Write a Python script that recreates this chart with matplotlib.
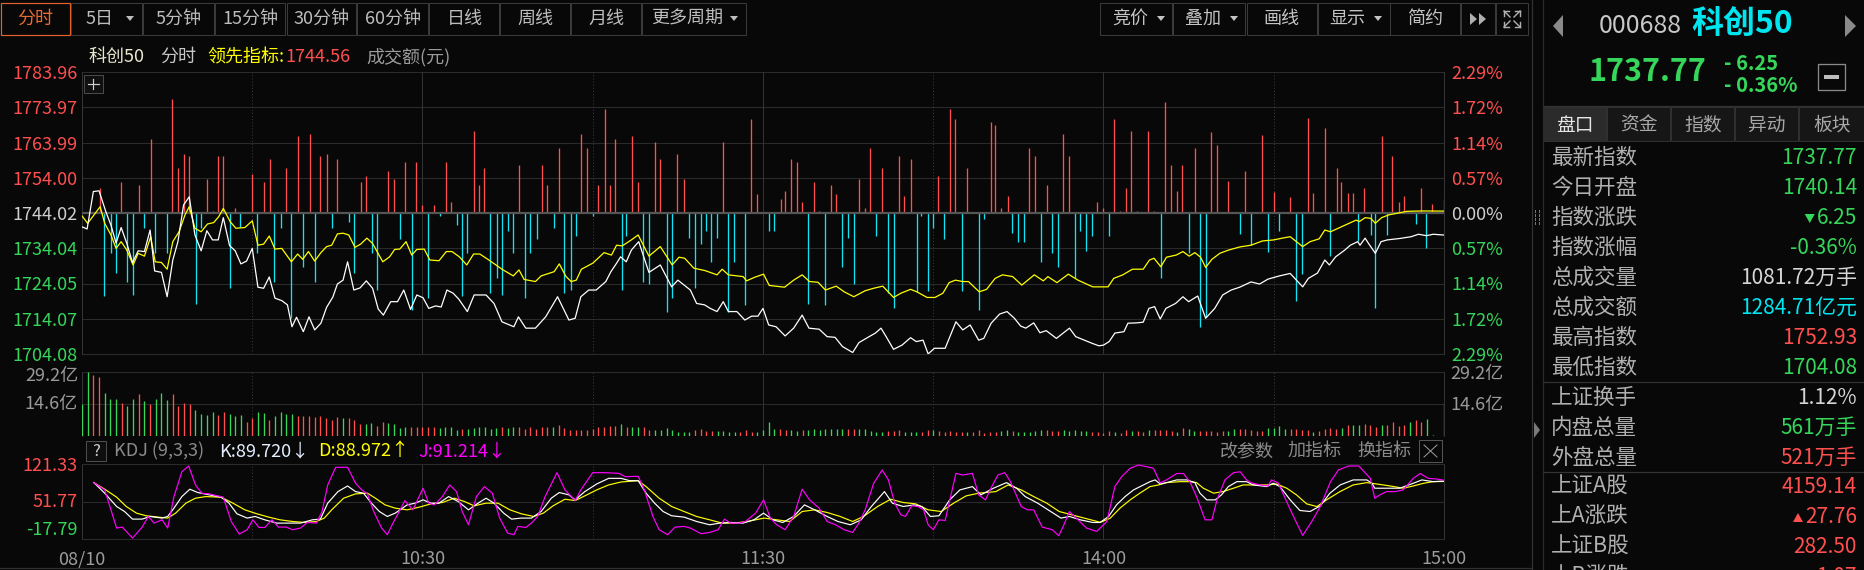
import matplotlib
matplotlib.use("Agg")
import matplotlib.pyplot as plt
from matplotlib.lines import Line2D
from matplotlib.patches import Rectangle, Polygon

plt.rcParams['font.family'] = ['Noto Sans CJK SC', 'DejaVu Sans']

# ---------------------------------------------------------------- data
prev_close = 1744.02
price_ticks = [1704.08, 1714.07, 1724.05, 1734.04, 1744.02, 1754.00, 1763.99, 1773.97, 1783.96]
pct_labels = ['2.29%', '1.72%', '1.14%', '0.57%', '0.00%', '0.57%', '1.14%', '1.72%', '2.29%']
time_ticks = [0, 60, 120, 180, 240]
time_labels = ['08/10', '10:30', '11:30', '14:00', '15:00']

# white line: index level (minutes after 9:30)
price_t = [0, 0.9, 2, 3, 4.2, 5.1, 6, 6.9, 7.9, 8.9, 9.9, 11, 12, 12.8, 14, 15, 16, 16.9, 17.9, 18.9,
           19.9, 21, 22, 23, 24, 24.9, 26, 27, 28, 29, 30, 31, 32, 33, 34, 35.2, 36.2, 37, 37.8, 39,
           40, 41, 42.1, 43.1, 44.2, 45, 46, 46.8, 47.9, 49, 50.1, 51.2, 52.2, 53.1, 54.4, 55.6, 56.7, 57.9, 59, 60.1,
           61.1, 62.3, 63.3, 64.3, 65.4, 66.4, 67.9, 69.1, 71.2, 72.6, 74, 76.1, 76.9, 78.2, 79.9, 81.7, 83.8, 85.8, 86.9, 87.9,
           89.3, 90.6, 92.3, 93.2, 94.2, 94.9, 95.9, 96.8, 98.1, 99.9, 101.9, 103.9, 105, 107.2, 108.3, 109.7, 110.7, 111.9, 113, 113.9,
           115.4, 116.8, 118, 119.1, 120, 121, 122.3, 123.9, 125.4, 126.9, 128.1, 129.9, 131.3, 132.7, 134, 135.8, 136.9, 138.7, 139.8, 140.8,
           141.7, 143, 144.5, 146, 147, 148.2, 149.1, 150.2, 152.1, 154, 155.2, 156.5, 158, 158.9, 160.2, 161.7, 163, 164.3, 165.4, 166.3,
           167.7, 168.8, 169.9, 171.7, 174, 175.1, 176.6, 178, 179.2, 180, 181, 182, 183.6, 184.3, 185.9, 187, 188, 189, 190, 191,
           192.7, 194, 195, 196.6, 198, 199.6, 201, 202.5, 204, 206, 207.5, 209, 211, 212.9, 215.1, 216.1, 217.7, 219, 219.8, 220.9,
           222.5, 223.5, 224.8, 225.2, 226.1, 226.7, 227.9, 228.9, 230, 232.2, 234.2, 235.5, 236.9, 238.1, 240]
price_v = [1740.1, 1739.5, 1750.1, 1750.3, 1744.4, 1740.6, 1735.5, 1739.9, 1735.4, 1730.0, 1733.3, 1733.1, 1739.2, 1727.6, 1727.2, 1720.3, 1730.7, 1735.9, 1746.3, 1748.6,
           1737.8, 1733.3, 1739.0, 1736.4, 1736.4, 1742.7, 1734.8, 1733.3, 1729.6, 1730.4, 1734.0, 1723.0, 1722.7, 1725.9, 1719.9, 1719.2, 1718.0, 1711.8, 1714.5, 1710.4,
           1714.6, 1710.9, 1712.8, 1717.3, 1720.2, 1723.9, 1725.0, 1730.2, 1722.2, 1722.8, 1724.8, 1722.7, 1716.8, 1715.1, 1718.9, 1718.9, 1722.2, 1716.7, 1720.8, 1720.0,
           1717.0, 1717.7, 1717.4, 1722.2, 1721.3, 1719.6, 1716.1, 1720.8, 1720.8, 1718.4, 1713.2, 1711.8, 1714.6, 1711.4, 1711.4, 1714.6, 1720.3, 1713.7, 1714.2, 1720.3,
           1722.2, 1722.2, 1724.6, 1727.4, 1729.8, 1731.6, 1730.2, 1733.5, 1735.9, 1727.2, 1729.3, 1723.1, 1725.0, 1722.2, 1718.4, 1718.0, 1717.0, 1716.1, 1718.9, 1716.1,
           1716.1, 1713.7, 1714.8, 1714.8, 1717.0, 1712.3, 1711.8, 1709.2, 1711.4, 1715.1, 1711.4, 1711.1, 1709.0, 1708.8, 1706.2, 1704.5, 1707.3, 1709.0, 1710.0, 1711.4,
           1709.0, 1705.4, 1706.6, 1708.7, 1707.6, 1708.0, 1704.1, 1705.7, 1705.7, 1713.2, 1710.9, 1712.3, 1708.0, 1708.5, 1712.8, 1715.4, 1716.1, 1714.2, 1712.0, 1711.4,
           1712.9, 1710.1, 1710.7, 1708.5, 1711.4, 1709.0, 1708.0, 1707.1, 1706.4, 1706.6, 1707.6, 1710.0, 1710.4, 1712.8, 1712.9, 1713.1, 1717.0, 1717.5, 1714.0, 1717.0,
           1718.4, 1720.3, 1718.9, 1720.5, 1714.2, 1717.0, 1720.8, 1722.2, 1723.0, 1724.5, 1723.9, 1725.3, 1726.2, 1726.9, 1723.1, 1725.5, 1727.0, 1730.7, 1729.3, 1731.6,
           1733.5, 1734.9, 1735.9, 1734.9, 1736.9, 1735.4, 1732.6, 1735.9, 1736.4, 1736.8, 1737.3, 1738.0, 1737.6, 1738.0, 1737.77]

# yellow line: 领先指标
lead_t = [0, 1, 3.2, 4, 5.1, 6, 6.9, 7.9, 9, 9.9, 11, 12.1, 12.9, 14, 15, 16, 17.1, 18.2, 18.9, 19.9,
          21, 22.1, 23.2, 24.1, 24.9, 26.1, 27.1, 28.7, 30, 31, 32, 33, 34, 35.2, 36.9, 38, 38.9, 39.9, 41, 42.1,
          43.1, 44, 45, 46, 47, 48.1, 49.1, 50.2, 51.2, 53, 54.2, 55.1, 56, 57.1, 58.1, 59, 60.3, 61.3, 62.9, 64.2,
          65.2, 66.5, 67.8, 69, 70.1, 71.7, 74, 76, 77, 77.9, 79.9, 80.9, 83.2, 84.1, 85.3, 86.2, 87.1, 88, 90, 92,
          93.3, 94.2, 95.2, 96.8, 98, 99.9, 101.9, 104, 105.2, 106.2, 107.8, 109.8, 111.9, 112.8, 113.9, 116.5, 117.1, 118.5, 120.1, 121.1,
          123.8, 125.4, 126.9, 128.2, 129.7, 131, 132.9, 134.3, 136, 138, 139.5, 141.1, 143, 144.3, 146, 147.1, 148.9, 150.3, 151.7, 152.8,
          153.9, 155.2, 156.2, 158.1, 159.4, 160.9, 162.2, 164, 165.6, 167.8, 169.4, 170.2, 171.8, 173.8, 175.5, 178.1, 180.8, 181.8, 183.4, 185.1,
          187, 188.1, 188.9, 190.1, 191.1, 192.8, 194, 195.1, 196.1, 197.1, 198, 199.1, 200.5, 202, 204, 206, 208, 210, 211.5, 212.9,
          215.1, 216.4, 218, 219, 220, 221.9, 224.5, 225.1, 226.1, 227.1, 227.9, 229, 230.3, 233.5, 236.1, 240]
lead_v = [1743.2, 1741.1, 1745.8, 1741.1, 1737.8, 1734.0, 1735.9, 1733.5, 1729.3, 1732.6, 1731.8, 1737.3, 1730.2, 1730.0, 1728.1, 1735.9, 1738.7, 1743.7, 1745.8, 1739.7,
          1738.7, 1740.9, 1741.3, 1743.0, 1745.3, 1741.6, 1739.7, 1739.9, 1741.8, 1734.9, 1735.2, 1737.5, 1733.8, 1734.0, 1730.2, 1732.4, 1730.9, 1733.1, 1730.4, 1732.8,
          1734.5, 1734.9, 1738.1, 1738.3, 1737.8, 1734.3, 1735.2, 1736.9, 1735.4, 1730.2, 1731.6, 1733.7, 1733.8, 1735.9, 1732.1, 1733.7, 1733.8, 1730.7, 1730.5, 1733.1,
          1733.1, 1731.6, 1729.3, 1732.4, 1732.4, 1730.7, 1728.1, 1726.2, 1727.9, 1725.2, 1724.6, 1726.2, 1727.4, 1729.6, 1726.0, 1724.6, 1725.0, 1728.1, 1729.8, 1732.8,
          1732.1, 1734.9, 1734.7, 1736.4, 1737.8, 1731.8, 1734.5, 1729.3, 1731.5, 1731.2, 1728.4, 1727.7, 1726.5, 1728.1, 1726.5, 1726.0, 1724.8, 1725.8, 1726.7, 1723.5,
          1723.0, 1725.0, 1726.5, 1724.6, 1724.4, 1722.2, 1723.3, 1721.7, 1720.3, 1722.0, 1722.7, 1723.3, 1720.1, 1721.3, 1722.4, 1721.7, 1720.1, 1720.1, 1721.3, 1724.3,
          1725.0, 1724.6, 1724.6, 1721.7, 1722.4, 1725.5, 1726.5, 1726.0, 1723.6, 1726.5, 1724.8, 1726.0, 1724.3, 1726.7, 1725.0, 1723.1, 1723.1, 1725.5, 1726.5, 1728.1,
          1728.1, 1730.7, 1731.2, 1728.8, 1731.5, 1732.1, 1733.1, 1731.8, 1732.8, 1731.5, 1728.6, 1730.9, 1732.6, 1733.5, 1734.4, 1734.9, 1736.1, 1736.4, 1736.9, 1737.3,
          1734.5, 1735.9, 1736.7, 1739.2, 1738.7, 1740.1, 1742.0, 1741.6, 1742.7, 1742.5, 1741.1, 1742.7, 1743.5, 1744.5, 1744.6, 1744.56]

# red / cyan strength bars around the previous close (index points)
up_t = [1, 3.1, 6.9, 10, 12.1, 15.9, 17, 18, 18.9, 22, 23, 24, 24.9, 27, 30, 32, 33.1, 36, 38, 40.1,
        42, 43.1, 45, 49.1, 50, 54, 55, 57, 58.9, 60, 62, 64.1, 65, 69, 70, 70.9, 77, 81, 82, 84,
        88, 89, 91, 92.1, 93.1, 94, 97, 98, 101, 101.9, 104.9, 106, 113, 117.9, 119, 123.1, 123.9, 125, 126, 126.9,
        129, 129.9, 132, 132.9, 137, 138, 138.9, 141, 144, 144.9, 146, 150.9, 153, 153.8, 156, 160.1, 160.9, 162, 163.1, 166.9,
        168, 170, 172.9, 174, 178.9, 180, 181.9, 182.9, 184, 184.9, 185.9, 187.9, 188.9, 190.9, 191.9, 192.9, 193.9, 196.1, 199, 200,
        202, 205, 208, 210, 212.9, 216, 217, 219, 221.1, 221.9, 223, 224, 225.9, 229, 230.9, 232, 233, 235.9, 237.9, 240]
up_v = [0.4, 7.0, 8.7, 7.9, 21.0, 32.2, 12.7, 16.6, 16.1, 9.6, 0.7, 16.1, 16.1, 1.3, 11.0, 8.7, 15.3, 12.7, 21.8, 22.4,
        16.1, 16.6, 15.3, 8.7, 10.5, 11.9, 9.6, 14.5, 14.5, 2.3, 2.3, 14.5, 3.2, 23.2, 7.9, 12.7, 13.6, 13.6, 7.9, 18.3,
        22.4, 18.5, 7.9, 29.6, 7.9, 21.0, 21.8, 8.7, 20.2, 15.3, 16.7, 9.6, 20.2, 26.6, 5.4, 4.0, 6.2, 15.3, 14.5, 3.0,
        8.7, 0.6, 7.9, 5.4, 9.6, 1.4, 18.3, 12.8, 16.1, 4.8, 15.3, 10.5, 29.6, 26.6, 12.8, 25.9, 24.9, 1.4, 4.8, 18.3,
        16.1, 7.9, 22.4, 16.1, 3.0, 1.4, 26.6, 0.6, 7.2, 23.2, 0.6, 23.2, 0.6, 31.4, 13.6, 6.2, 13.6, 18.3, 23.0, 19.3,
        9.0, 12.0, 22.0, 6.0, 4.6, 26.8, 5.6, 24.2, 12.8, 8.9, 5.6, 5.6, 7.2, 21.8, 16.1, 3.2, 4.8, 7.2, 2.5, 3.9]
dn_t = [3.9, 5.1, 6, 8, 9, 11, 12.9, 15, 20.1, 21, 26, 27.9, 30.9, 33.9, 35, 36.9, 39, 41, 44, 47,
        48, 51.1, 52, 56, 58.1, 61, 63, 66, 67, 67.9, 71.9, 73.1, 74, 75, 76, 78, 79, 80.1, 83.1, 85,
        86.1, 87, 90, 95.1, 95.9, 98.9, 99.9, 103, 104, 107, 108, 109, 110, 110.9, 111.9, 113.9, 114.9, 116.9, 121, 122,
        128, 131, 134, 135, 136, 140, 142, 143, 147.1, 147.9, 149, 150, 151.9, 155, 158, 159, 163.9, 165, 166, 169,
        170.9, 172, 175, 175.9, 177, 178, 181, 190.1, 195.1, 197, 198, 204, 206, 209, 211, 214, 215, 220, 224.9, 227.1,
        227.9, 230, 235, 236.9]
dn_v = [-23.4, -11.2, -16.9, -19.5, -23.2, -4.2, -11.2, -11.2, -25.9, -4.3, -21.2, -3.9, -11.2, -19.5, -4.2, -29.7, -15.4, -19.5, -4.2, -2.5,
        -16.9, -11.2, -21.8, -7.4, -27.5, -24.2, -0.8, -3.4, -23.4, -11.2, -22.6, -18.5, -23.2, -5.0, -11.2, -24.2, -11.2, -7.4, -4.2, -22.6,
        -21.8, -6.4, -0.8, -21.8, -6.4, -19.5, -20.2, -28.0, -24.2, -7.2, -21.2, -8.9, -5.0, -13.8, -7.2, -28.0, -13.8, -26.0, -5.0, -5.0,
        -25.9, -26.1, -15.4, -7.2, -20.2, -6.4, -22.7, -26.8, -22.3, -0.8, -22.0, -4.2, -7.4, -22.0, -27.5, -1.6, -5.6, -8.1, -8.1, -13.8,
        -11.2, -15.4, -18.5, -5.0, -10.7, -6.4, -6.4, -18.5, -11.2, -32.2, -29.4, -6.0, -9.0, -11.0, -5.0, -24.9, -17.4, -12.2, -7.9, -6.2,
        -26.8, -6.2, -3.2, -9.8]

# turnover per minute (亿元), t = 0..240 ; R = up minute, G = down minute
volume = [14.4, 29.4, 27.8, 27.0, 19.5, 16.7, 16.7, 15.1, 13.6, 17.0, 19.0, 15.8, 14.8, 17.0, 19.5, 16.4, 19.0, 13.6, 15.1, 14.8,
          11.7, 10.2, 9.7, 11.1, 9.7, 11.1, 10.2, 9.0, 9.7, 6.3, 8.2, 11.1, 10.5, 7.4, 9.3, 11.1, 10.2, 10.0, 9.0, 9.0,
          9.0, 8.8, 9.3, 8.2, 7.4, 8.5, 8.3, 8.2, 7.4, 5.6, 5.7, 5.9, 4.6, 6.5, 5.9, 5.3, 3.6, 3.9, 3.9, 4.2,
          4.3, 4.2, 4.3, 3.6, 3.9, 4.2, 2.8, 3.1, 3.1, 3.6, 3.9, 3.9, 3.4, 3.6, 3.9, 3.6, 3.9, 3.9, 3.4, 3.9,
          3.1, 3.9, 4.2, 4.3, 5.1, 3.6, 2.8, 2.8, 2.8, 2.8, 3.1, 4.2, 4.2, 4.6, 4.6, 5.6, 4.3, 4.0, 4.3, 4.3,
          2.8, 2.8, 2.8, 3.6, 2.8, 2.0, 1.7, 2.0, 2.8, 3.1, 2.3, 2.3, 2.3, 2.3, 1.7, 2.0, 1.7, 2.8, 2.0, 2.0,
          2.8, 6.3, 3.2, 3.1, 2.8, 2.8, 2.2, 2.8, 2.8, 3.2, 2.8, 3.1, 3.1, 3.1, 3.1, 3.2, 3.2, 3.2, 3.1, 2.2,
          2.0, 2.0, 2.2, 2.2, 2.8, 1.7, 2.0, 2.0, 2.0, 2.8, 2.8, 2.3, 2.0, 2.3, 2.0, 2.0, 2.0, 2.0, 2.8, 1.5,
          2.0, 2.0, 2.3, 2.8, 2.3, 2.0, 1.7, 2.0, 2.3, 2.8, 2.8, 2.5, 2.5, 2.8, 2.5, 2.8, 2.2, 2.3, 2.0, 2.0,
          1.5, 2.3, 2.0, 1.2, 2.8, 2.3, 2.3, 1.7, 2.8, 2.8, 2.8, 2.8, 2.3, 1.7, 3.6, 3.2, 2.3, 2.3, 2.3, 2.3,
          2.0, 2.5, 2.3, 3.1, 3.2, 3.2, 2.8, 2.5, 2.3, 3.6, 3.6, 4.6, 3.1, 3.1, 3.1, 2.8, 2.8, 1.7, 2.3, 3.2,
          3.6, 3.1, 3.6, 4.8, 5.1, 5.1, 5.4, 4.8, 4.3, 5.1, 5.1, 6.2, 4.6, 5.1, 6.3, 7.1, 6.6, 7.9, 0.5, 0.0,
          14.7]
vol_dir = ("GGRRGGGRGGRGRGGGRRRRGGGGRRGGGRRGGRGGGGRRRRRRRRGRRRGGRRGGGGRRRRRGGGGRGGGGGGRGGRRRRRRGRRRRRRRRR"
           "RRGRGGRRGGGGGGGRRRRGGGGRRRGGGGRRGGRGGGGGGGRRGGGGGRRRGGGRRGRRRRRGRRRRRGGRGGGGGRRRGGGGG"
           "RRRRGRRGRRGRRRRGRGGRRRRRGGRRRRRGGGGRRRRGRRRRGRGGRRRGRRRRGRRG")

# KDJ(9,3,3)
k_t = [2.1, 4.0, 6.1, 7.5, 8.9, 10.6, 12.0, 14.1, 15.1, 16.2, 17.6, 19.0, 20.4, 22.4, 24.5, 25.9, 27.3, 29.1, 30.5, 32.2,
       34.3, 36.7, 38.5, 40.6, 42.0, 43.3, 45.1, 46.8, 48.2, 49.6, 51.0, 52.4, 53.8, 55.2, 57.3, 58.7, 60.1, 61.5, 62.9, 64.6,
       66.3, 68.1, 69.8, 71.2, 72.6, 74.3, 75.7, 77.4, 79.2, 80.9, 82.7, 84.1, 85.8, 86.9, 88.6, 90.7, 92.8, 95.0, 96.5, 98.0,
       99.4, 100.9, 102.4, 103.9, 106.1, 108.3, 110.6, 112.4, 114.3, 116.5, 118.4, 120.1, 121.7, 123.5, 125.4, 127.3, 129.1, 131.3, 133.2, 135.4,
       137.3, 139.1, 141.4, 142.8, 144.7, 146.6, 148.0, 149.5, 151.0, 152.9, 154.7, 156.9, 158.4, 160.6, 162.9, 164.7, 166.2, 168.4, 170.7, 172.5,
       174.0, 175.9, 178.1, 179.4, 180.9, 182.3, 183.8, 185.3, 186.7, 188.2, 189.1, 190.0, 191.1, 192.9, 194.7, 196.1, 197.0, 198.2, 199.7, 200.8,
       202.0, 203.5, 205.2, 206.4, 208.8, 209.9, 211.1, 212.9, 214.6, 216.4, 218.2, 219.9, 221.7, 224.0, 226.4, 227.3, 227.8, 229.9, 232.2, 234.6,
       236.1, 238.1, 240.0]
k_v = [86.8, 67.2, 42.5, 33.2, 19.1, 19.1, 24.0, 21.0, 24.0, 39.4, 60.9, 74.6, 68.4, 64.1, 59.8, 48.7, 29.0, 21.0, 24.0, 17.8,
       11.7, 11.7, 11.7, 17.8, 19.1, 48.7, 70.1, 80.6, 70.1, 67.2, 48.7, 33.2, 24.0, 30.2, 45.5, 48.7, 54.8, 48.7, 48.7, 60.9,
       51.7, 36.3, 48.7, 57.9, 48.7, 30.2, 19.1, 21.0, 21.0, 33.2, 57.9, 68.4, 64.1, 54.8, 70.1, 84.3, 94.7, 94.7, 90.4, 90.4,
       67.2, 48.7, 33.2, 25.3, 22.8, 14.7, 8.6, 11.7, 12.9, 11.7, 17.8, 30.2, 17.8, 12.9, 24.0, 45.5, 36.3, 24.0, 14.7, 8.6,
       17.8, 42.5, 70.1, 48.7, 42.5, 45.5, 42.5, 24.0, 25.3, 54.8, 73.3, 79.4, 64.1, 76.4, 86.8, 76.4, 60.9, 48.7, 33.2, 21.0,
       24.0, 17.8, 12.9, 12.9, 24.0, 45.6, 60.9, 73.3, 80.6, 88.6, 91.8, 84.3, 86.8, 91.8, 91.8, 86.8, 67.2, 54.8, 54.8, 64.1,
       79.4, 88.6, 88.6, 82.5, 79.4, 85.6, 79.4, 54.8, 35.1, 33.2, 43.7, 67.2, 82.5, 91.8, 91.8, 85.6, 76.4, 76.4, 76.4, 85.6,
       91.8, 88.6, 89.72]
d_t = [2.1, 4.0, 6.1, 7.8, 9.6, 11.3, 13.4, 15.1, 16.5, 18.3, 20.0, 21.8, 24.5, 26.6, 28.7, 30.8, 32.9, 34.9, 37.1, 39.2,
       41.3, 42.7, 44.0, 46.1, 48.2, 50.3, 51.7, 53.4, 55.2, 57.3, 59.4, 61.5, 63.5, 65.6, 67.4, 69.1, 71.2, 73.3, 75.4, 77.4,
       79.6, 81.3, 83.0, 85.1, 86.9, 88.6, 90.7, 92.8, 95.0, 98.0, 99.4, 101.7, 103.9, 106.1, 108.3, 110.6, 112.8, 115.0, 117.2, 120.2,
       122.4, 124.7, 126.9, 129.1, 131.3, 133.6, 135.8, 137.7, 140.2, 142.5, 144.7, 146.9, 149.1, 151.4, 153.6, 155.8, 158.0, 161.0, 163.2, 165.5,
       167.7, 170.0, 172.2, 174.4, 176.6, 178.9, 179.4, 181.2, 182.9, 184.7, 186.4, 188.2, 189.7, 191.1, 193.5, 195.3, 196.4, 197.6, 199.4, 201.1,
       202.9, 204.6, 206.4, 208.8, 210.5, 212.3, 214.0, 215.8, 217.6, 219.3, 221.7, 224.0, 226.4, 228.1, 230.5, 232.8, 234.6, 236.4, 238.1, 240.0]
d_v = [86.8, 74.6, 59.8, 42.5, 30.2, 25.3, 22.8, 21.0, 30.2, 48.7, 57.9, 60.9, 59.8, 48.7, 36.3, 29.0, 22.8, 17.8, 14.7, 12.9,
       14.7, 21.0, 36.3, 57.9, 65.9, 67.2, 57.9, 45.5, 39.4, 36.3, 41.2, 47.4, 49.9, 57.9, 51.7, 43.7, 48.7, 48.7, 36.3, 29.0,
       24.0, 30.2, 43.7, 56.0, 53.5, 62.2, 73.3, 82.5, 88.0, 90.4, 79.4, 57.9, 42.5, 33.2, 24.0, 17.8, 11.7, 11.7, 14.7, 21.0,
       17.8, 14.7, 33.2, 36.3, 31.4, 24.0, 14.7, 24.0, 42.5, 56.0, 49.9, 47.4, 36.3, 33.2, 48.7, 62.2, 67.2, 70.1, 82.5, 73.3,
       60.9, 48.7, 33.2, 27.1, 21.0, 14.7, 12.9, 20.9, 39.4, 54.8, 67.2, 79.4, 82.5, 86.8, 88.6, 88.6, 86.8, 76.4, 67.2, 70.3,
       76.4, 82.5, 82.5, 82.5, 84.3, 76.4, 64.1, 47.4, 42.4, 54.8, 70.3, 82.5, 86.8, 84.3, 80.6, 76.4, 80.6, 85.6, 88.6, 88.97]
j_t = [2.1, 4.0, 6.1, 7.1, 8.9, 10.6, 11.7, 12.7, 14.1, 15.1, 16.2, 17.6, 18.8, 20.0, 21.1, 22.4, 24.9, 26.3, 27.7, 29.1,
       30.1, 31.2, 32.2, 33.5, 34.6, 36.0, 37.1, 38.5, 39.7, 41.3, 42.3, 43.3, 44.7, 46.8, 48.2, 49.3, 50.3, 51.4, 52.8, 53.8,
       54.8, 55.9, 56.9, 58.3, 60.1, 61.1, 62.1, 63.5, 64.8, 66.0, 67.0, 68.1, 69.5, 70.9, 72.3, 73.6, 75.0, 76.1, 76.8, 78.2,
       79.2, 80.3, 81.6, 83.7, 85.1, 86.9, 87.9, 90.0, 92.1, 94.6, 95.7, 98.0, 99.1, 100.6, 101.7, 103.2, 104.5, 106.1, 107.2, 109.1,
       110.6, 112.1, 113.2, 114.3, 115.8, 116.9, 118.7, 120.1, 121.3, 122.4, 123.9, 125.4, 126.9, 128.2, 129.9, 131.3, 132.8, 134.3, 135.8, 136.9,
       138.0, 139.5, 141.0, 142.1, 143.2, 144.3, 145.1, 146.2, 147.3, 148.3, 149.1, 150.0, 151.0, 152.1, 154.0, 155.2, 156.9, 158.0, 159.2, 160.3,
       161.4, 162.6, 163.6, 165.5, 166.6, 167.7, 169.2, 171.0, 172.1, 172.9, 174.0, 175.5, 177.0, 178.8, 180.6, 182.0, 183.2, 184.7, 186.2, 188.8,
       190.0, 191.1, 192.9, 194.1, 195.3, 196.4, 197.9, 199.1, 200.0, 201.4, 202.9, 204.1, 205.2, 206.1, 207.6, 209.0, 209.6, 210.8, 211.6, 213.2,
       215.1, 216.7, 218.2, 220.0, 221.4, 223.2, 225.0, 226.1, 227.0, 227.8, 228.7, 229.9, 231.4, 232.8, 234.6, 235.8, 237.2, 238.7, 240.0]
j_v = [86.8, 73.3, 2.5, 4.3, -16.0, 4.3, 24.0, 11.7, 17.8, 2.5, 60.9, 107.1, 117.6, 82.5, 67.2, 65.9, 59.8, 14.7, -8.6, -0.6,
       17.8, 3.6, 3.6, 17.8, 4.3, 4.3, -0.6, 2.5, 12.9, 11.7, 33.2, 82.5, 115.2, 115.2, 85.6, 73.3, 65.9, 33.2, 2.5, -9.9,
       11.7, 33.2, 53.5, 36.3, 76.4, 48.7, 45.5, 60.9, 82.5, 70.1, 33.2, 8.6, 60.9, 79.4, 67.2, 21.0, -6.8, -9.9, 5.5, 3.6,
       11.7, 24.0, 60.9, 105.3, 73.3, 53.5, 73.3, 105.3, 105.3, 104.0, 97.9, 98.5, 73.3, 24.0, -0.6, -9.9, 4.3, 5.5, 2.5, -8.0,
       -5.6, -0.6, 19.1, 11.7, 11.7, 14.7, 30.2, 54.8, 21.0, 8.6, -0.6, 24.0, 74.6, 54.8, 39.4, 14.7, 8.6, -0.6, -5.6, 11.7,
       36.3, 85.6, 110.2, 91.8, 48.7, 27.1, 24.0, 43.8, 42.5, 36.3, 8.6, -0.6, 17.8, 16.6, 104.0, 100.9, 104.0, 64.1, 54.8, 79.4,
       100.9, 105.3, 88.7, 42.5, 36.3, 36.3, 4.3, -0.6, -11.7, 5.5, 33.2, 17.8, 2.5, -3.7, 14.7, 79.4, 97.9, 113.4, 119.5, 113.4,
       86.2, 91.8, 103.7, 103.7, 86.8, 60.9, 17.8, 17.8, 54.8, 91.8, 105.2, 106.9, 91.8, 86.2, 82.5, 80.5, 91.8, 86.2, 67.2, 30.2,
       -11.2, 14.7, 42.4, 88.6, 110.3, 117.6, 117.6, 105.2, 94.8, 57.8, 64.1, 70.1, 70.1, 73.3, 94.8, 103.7, 94.8, 93.5, 91.214]

period_buttons = ['分时', '5日', '5分钟', '15分钟', '30分钟', '60分钟', '日线', '周线', '月线', '更多周期']
tool_buttons = ['竞价', '叠加', '画线', '显示', '简约']
tabs = ['盘口', '资金', '指数', '异动', '板块']
panel_labels = ['最新指数', '今日开盘', '指数涨跌', '指数涨幅', '总成交量', '总成交额', '最高指数', '最低指数',
                '上证换手', '内盘总量', '外盘总量', '上证A股', '上A涨跌', '上证B股', '上B涨跌']
panel_values = ['1737.77', '1740.14', '▼6.25', '-0.36%', '1081.72万手', '1284.71亿元', '1752.93', '1704.08',
                '1.12%', '561万手', '521万手', '4159.14', '▲27.76', '282.50', '▲1.07']
panel_colors = ['g', 'g', 'g', 'g', 'w', 'c', 'r', 'g', 'w', 'g', 'r', 'r', 'r', 'r', 'r']

# ---------------------------------------------------------------- style
W, H = 1865, 570
BG = '#080808'
RED = '#ff4f4f'
GREEN = '#35d65a'
CYAN = '#00e6f0'
GRID = '#2a2a2a'
GRAY = '#9a9a9a'
cmap = {'g': GREEN, 'r': RED, 'c': CYAN, 'w': '#d6d6d6'}

fig = plt.figure(figsize=(W / 100, H / 100), dpi=100)
fig.patch.set_facecolor(BG)
renderer = fig.canvas.get_renderer()


def fx(x):
    return x / W


def fy(y):
    return 1 - y / H


def txt(x, y, s, color, size, ha='left', va='center', **kw):
    return fig.text(fx(x), fy(y), s, color=color, fontsize=size, ha=ha, va=va, **kw)


def seg(x0, y0, x1, y1, color, lw=1.0, ls='-'):
    fig.add_artist(Line2D([fx(x0), fx(x1)], [fy(y0), fy(y1)], color=color, lw=lw * 0.72, ls=ls,
                          transform=fig.transFigure))


def box(x0, y0, x1, y1, ec='none', fc='none', lw=1.0):
    fig.add_artist(Rectangle((fx(x0), fy(y1)), (x1 - x0) / W, (y1 - y0) / H, transform=fig.transFigure,
                             ec=ec, fc=fc, lw=lw * 0.72))


def poly(points, color):
    fig.add_artist(Polygon([(fx(a), fy(b)) for a, b in points], closed=True, transform=fig.transFigure,
                           fc=color, ec='none'))


def add_ax(x0, y0, x1, y1):
    ax = fig.add_axes([fx(x0), fy(y1), (x1 - x0) / W, (y1 - y0) / H])
    ax.set_facecolor('none')
    for s in ax.spines.values():
        s.set_visible(False)
    ax.set_xlim(0, 240)
    ax.set_xticks([])
    ax.set_yticks([])
    ax.tick_params(length=0)
    return ax


def time_grid(ax):
    for t in (60, 120, 180):
        ax.axvline(t, color='#333333', lw=0.75, zorder=0)
    for t in (30, 90, 150, 210):
        ax.axvline(t, color='#3a3a3a', lw=0.75, ls=(0, (1, 2)), zorder=0)
    for t in (0, 240):
        ax.axvline(t, color='#353535', lw=0.75, clip_on=False, zorder=0)


L, R = 82, 1444

# ---------------------------------------------------------------- toolbar
x = 0
widths = [71, 72, 72, 71, 71, 72, 71, 71, 71, 105]
for name, w in zip(period_buttons, widths):
    sel = name == '分时'
    box(x + 0.5, 3, x + w - 1, 35, ec='#e0622c' if sel else '#3a3a3a', lw=1.2 if sel else 1.0)
    has_arrow = name in ('5日', '更多周期')
    cx = x + w / 2 - (7 if has_arrow else 0)
    txt(cx, 19, name, '#ee6a30' if sel else '#bdbdbd', 13, ha='center')
    if has_arrow:
        ax_ = x + w - 13
        poly([(ax_ - 4, 16), (ax_ + 4, 16), (ax_, 21)], '#bdbdbd')
    x += w

xs = [1100, 1173, 1246, 1317, 1390, 1461]
for i, name in enumerate(tool_buttons):
    x0, x1 = xs[i], xs[i + 1]
    box(x0 + 0.5, 3, x1 - 0.5, 35, ec='#3a3a3a')
    has_arrow = name in ('竞价', '叠加', '显示')
    cx = (x0 + x1) / 2 - (6 if has_arrow else 0)
    txt(cx, 19, name, '#c4c4c4', 13, ha='center')
    if has_arrow:
        a = x1 - 12
        poly([(a - 4, 16), (a + 4, 16), (a, 21)], '#c4c4c4')
box(1461.5, 3, 1495, 35, ec='#3a3a3a')
poly([(1470, 13), (1470, 25), (1477, 19)], '#b0b0b0')
poly([(1479, 13), (1479, 25), (1486, 19)], '#b0b0b0')
box(1496, 3, 1528, 35, ec='#3a3a3a')
for (cx, cy, dx, dy) in [(1504, 11, 1, 1), (1520, 11, -1, 1), (1504, 27, 1, -1), (1520, 27, -1, -1)]:
    seg(cx, cy, cx + 6 * dx, cy + 6 * dy, '#b0b0b0', 1.4)
    seg(cx, cy, cx + 5 * dx, cy, '#b0b0b0', 1.4)
    seg(cx, cy, cx, cy + 5 * dy, '#b0b0b0', 1.4)

# chart title row
txt(89, 57, '科创50', '#e8e8d0', 13)
txt(160, 57, '分时', '#c8c8c8', 13)
txt(207, 57, '领先指标:', '#ffff00', 13)
txt(285, 57, '1744.56', RED, 13)
txt(366, 57, '成交额(元)', '#9c9c9c', 13)

# ---------------------------------------------------------------- main price panel
ax = add_ax(L, 72, R, 354)
ax.set_ylim(price_ticks[0], price_ticks[-1])
for v in price_ticks:
    if v != prev_close:
        ax.axhline(v, color=GRID, lw=0.8, zorder=0, clip_on=False)
time_grid(ax)
ax.vlines(up_t, prev_close, [prev_close + v for v in up_v], colors=RED, lw=0.95, zorder=2)
ax.vlines(dn_t, prev_close, [prev_close + v for v in dn_v], colors='#10e4f4', lw=0.95, zorder=2)
ax.axhline(prev_close, color='#555555', lw=1.6, zorder=3)
ax.plot(lead_t, lead_v, color='#ffff00', lw=0.9, zorder=4)
ax.plot(price_t, price_v, color='#ffffff', lw=0.9, zorder=5)

ax.set_yticks(price_ticks)
ax.set_yticklabels(['%.2f' % v for v in price_ticks])
ax.tick_params(axis='y', length=0, pad=3, labelsize=13)
for lab, v in zip(ax.get_yticklabels(), price_ticks):
    lab.set_color(RED if v > prev_close else (GREEN if v < prev_close else '#cfcfcf'))
axr = ax.twinx()
axr.set_facecolor('none')
for s in axr.spines.values():
    s.set_visible(False)
axr.set_ylim(price_ticks[0], price_ticks[-1])
axr.set_yticks(price_ticks)
axr.set_yticklabels(pct_labels)
axr.tick_params(axis='y', length=0, pad=5, labelsize=13)
for lab, v in zip(axr.get_yticklabels(), price_ticks):
    lab.set_color(RED if v > prev_close else (GREEN if v < prev_close else '#cfcfcf'))

# "+" button
box(84, 75, 103, 93, ec='#4a4a4a', fc='#101010')
seg(88, 84, 99, 84, '#cfcfcf', 1.2)
seg(93.5, 79, 93.5, 89, '#cfcfcf', 1.2)

# ---------------------------------------------------------------- volume panel
axv = add_ax(L, 372, R, 436)
axv.set_ylim(0, 29.2)
axv.axhline(29.2, color=GRID, lw=0.8, clip_on=False)
axv.axhline(14.6, color=GRID, lw=0.8)
time_grid(axv)
axv.vlines(list(range(len(volume))), 0, volume,
           colors=[RED if c == 'R' else GREEN for c in vol_dir], lw=0.95, zorder=2)
txt(78, 376, '29.2亿', GRAY, 13, ha='right')
txt(78, 404.5, '14.6亿', GRAY, 13, ha='right')
txt(1450, 374, '29.2亿', GRAY, 13)
txt(1450, 405, '14.6亿', GRAY, 13)

# ---------------------------------------------------------------- KDJ panel
axk = add_ax(L, 464, R, 539)
axk.set_ylim(-17.79, 121.33)
for v in (121.33, 51.77, -17.79):
    axk.axhline(v, color=GRID, lw=0.8, clip_on=False)
time_grid(axk)
axk.plot(d_t, d_v, color='#ffff00', lw=0.85, zorder=3)
axk.plot(k_t, k_v, color='#ffffff', lw=0.85, zorder=4)
axk.plot(j_t, j_v, color='#ff00ff', lw=0.85, zorder=5)
axk.set_xticks(time_ticks)
axk.set_xticklabels(time_labels)
axk.tick_params(axis='x', length=0, pad=8, labelsize=13, colors='#9c9c9c')
txt(78, 466, '121.33', RED, 13, ha='right')
txt(78, 502, '51.77', RED, 13, ha='right')
txt(78, 530, '-17.79', GREEN, 13, ha='right')

# KDJ header
box(86, 441, 106, 461, ec='#4e4e4e', fc='#0e0e0e')
txt(96, 451, '?', '#cfcfcf', 12, ha='center')
txt(114, 451, 'KDJ (9,3,3)', '#8a8a8a', 13)
txt(219, 451, 'K:89.720↓', '#e4eeff', 13)
txt(318, 451, 'D:88.972↑', '#ffff00', 13)
txt(418, 451, 'J:91.214↓', '#ff00ff', 13)
txt(1220, 451, '改参数', '#8a8a8a', 13)
txt(1288, 451, '加指标', '#8a8a8a', 13)
txt(1357, 451, '换指标', '#8a8a8a', 13)
box(1419, 440, 1442, 462, ec='#555555')
seg(1424, 445, 1437, 457, '#9a9a9a', 1.0)
seg(1424, 457, 1437, 445, '#9a9a9a', 1.0)

# frame lines
seg(0, 568, 1532, 568, '#303030', 1.2)
seg(1532, 0, 1532, 570, '#333333', 1.2)
seg(1543, 0, 1543, 570, '#2a2a2a', 1.2)
for yy in (210, 214, 218, 222):
    seg(1535.5, yy, 1535.5, yy + 2, '#777777', 1.0)
    seg(1539.5, yy, 1539.5, yy + 2, '#777777', 1.0)
poly([(1534, 422), (1534, 438), (1540, 430)], '#7a7a7a')

# ---------------------------------------------------------------- right info panel
poly([(1563, 15), (1563, 37), (1553, 26)], '#8a8a8a')
poly([(1845, 15), (1845, 37), (1856, 26)], '#8a8a8a')
txt(1599, 26, '000688', '#c8c8c8', 18)
txt(1691, 25, '科创50', CYAN, 23, fontweight='bold')
txt(1589, 72, '1737.77', GREEN, 22, fontweight='bold')
txt(1724, 63, '- 6.25', GREEN, 14.5, fontweight='bold')
txt(1724, 86, '- 0.36%', GREEN, 14.5, fontweight='bold')
box(1818, 64, 1845, 90, ec='#8a8a8a', lw=1.3)
box(1824, 75.5, 1839, 78.5, fc='#bdbdbd')
seg(1543, 106, 1865, 106, '#333333', 1.2)

tab_x = [1543, 1607, 1671, 1735, 1799, 1865]
for i, name in enumerate(tabs):
    sel = i == 0
    box(tab_x[i] + 0.5, 107, tab_x[i + 1] - 0.5, 141, ec='#303030', fc='#2b2b2b' if sel else '#161616')
    txt((tab_x[i] + tab_x[i + 1]) / 2, 125, name, '#e6e6e6' if sel else '#a8a8a8', 13.5, ha='center')

row_y = [158, 188, 218, 248, 278, 308, 338, 368, 398, 428, 458, 487, 517, 547, 577]
for lab, val, col, yy in zip(panel_labels, panel_values, panel_colors, row_y):
    txt(1551, yy, lab, '#b0b0b0', 15.5)
    if val[0] in '▲▼':
        t_num = txt(1857, yy, val[1:], cmap[col], 15, ha='right')
        bb = t_num.get_window_extent(renderer)
        left_px = bb.x0
        cy = yy
        if val[0] == '▼':
            pts = [(left_px - 12, cy - 4), (left_px - 2, cy - 4), (left_px - 7, cy + 5)]
        else:
            pts = [(left_px - 12, cy + 5), (left_px - 2, cy + 5), (left_px - 7, cy - 4)]
        poly(pts, cmap[col])
    else:
        txt(1857, yy, val, cmap[col], 15, ha='right')
seg(1543, 382, 1865, 382, '#333333', 1.2)
seg(1543, 472, 1865, 472, '#333333', 1.2)

fig.savefig('out.png', dpi=100, facecolor=BG)
